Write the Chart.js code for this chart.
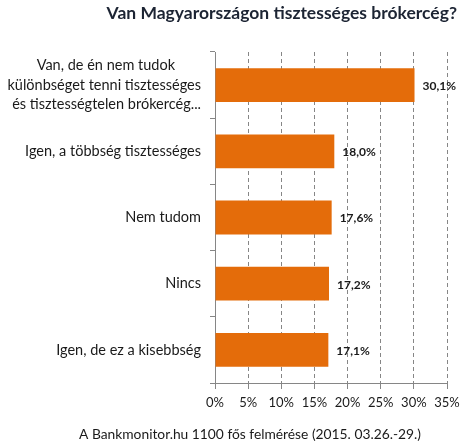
<!DOCTYPE html>
<html>
<head>
<meta charset="utf-8">
<script src="https://cdn.jsdelivr.net/npm/chart.js@4/dist/chart.umd.min.js"></script>
<style>
  body { margin: 0; background: #fff; }
  #wrap { width: 470px; height: 447px; position: relative; }
</style>
</head>
<body>
<div id="wrap"><canvas id="chart" width="470" height="447"></canvas></div>
<script>
// first line padded so the wrapped label looks centred like the original
const categories = [
    ['Van, de én nem tudok       ', 'különbséget tenni tisztességes', 'és tisztességtelen brókercég...'],
    'Igen, a többség tisztességes',
    'Nem tudom',
    'Nincs',
    'Igen, de ez a kisebbség'
]
const values = [30.1, 18.0, 17.6, 17.2, 17.1]
const xTicks = [0, 5, 10, 15, 20, 25, 30, 35]
const title = 'Van Magyarországon tisztességes brókercég?'
const footer = 'A Bankmonitor.hu 1100 fős felmérése (2015. 03.26.-29.)'

const font = 'Lato, "Open Sans", sans-serif'

// title, footer and value labels
const textPlugin = {
    id: 'texts',
    afterDatasetsDraw(chart) {
        const ctx = chart.ctx
        const meta = chart.getDatasetMeta(0)
        ctx.save()
        ctx.font = `bold 12px ${font}`
        ctx.fillStyle = '#1a1a1a'
        ctx.textAlign = 'left'
        ctx.textBaseline = 'middle'
        meta.data.forEach((bar, i) => {
            ctx.fillText(values[i].toFixed(1).replace('.', ',') + '%', bar.x + 8, bar.y + 1)
        })
        ctx.font = `bold 17.5px ${font}`
        ctx.fillStyle = '#1c2433'
        ctx.textAlign = 'right'
        ctx.fillText(title, 457, 13)
        ctx.font = `13.8px ${font}`
        ctx.fillStyle = '#1a1a1a'
        ctx.textAlign = 'center'
        ctx.fillText(footer, 250, 435)
        ctx.restore()
    }
}

const ctx = document.getElementById('chart').getContext('2d')
const chart = new Chart(ctx, {
    type: 'bar',
    data: {
        labels: categories,
        datasets: [{
            data: values,
            backgroundColor: '#E46C0A',
            borderWidth: 0,
            categoryPercentage: 0.51,
            barPercentage: 1
        }]
    },
    options: {
        indexAxis: 'y',
        responsive: false,
        animation: false,
        devicePixelRatio: 1,
        layout: { padding: { top: 52, right: 23, bottom: 34, left: 0 } },
        plugins: {
            legend: { display: false },
            tooltip: { enabled: false }
        },
        scales: {
            x: {
                min: 0,
                max: 35,
                afterBuildTicks: (scale) => { scale.ticks = xTicks.map(v => ({ value: v })) },
                afterFit: (scale) => { scale.height = 30 },
                border: { display: true, color: '#868686', width: 1, dash: [4, 3] },
                grid: {
                    color: '#868686',
                    tickBorderDash: [],
                    tickLength: 6,
                    drawTicks: true
                },
                ticks: {
                    color: '#1a1a1a',
                    font: { family: font, size: 13 },
                    padding: 6,
                    callback: (v) => v + '%'
                }
            },
            y: {
                afterFit: (scale) => { scale.width = 215 },
                border: { display: true, color: '#868686', width: 1 },
                grid: {
                    offset: true,
                    drawOnChartArea: false,
                    color: '#868686',
                    tickLength: 5
                },
                ticks: {
                    color: '#1a1a1a',
                    font: { family: font, size: 14.5, lineHeight: 1.33 },
                    padding: 9
                }
            }
        }
    },
    plugins: [textPlugin]
})
</script>
</body>
</html>
